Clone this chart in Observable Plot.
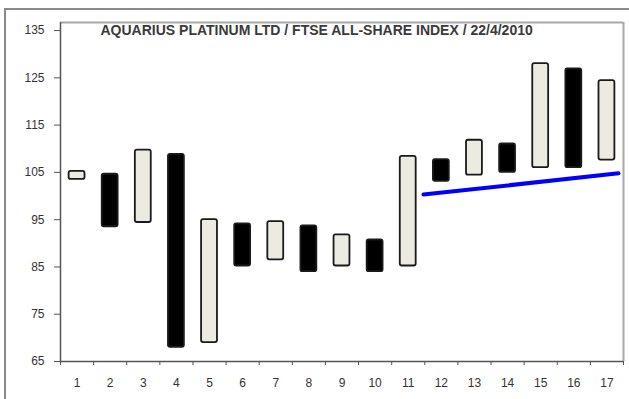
<!DOCTYPE html>
<html>
<head>
<meta charset="utf-8">
<script src="https://cdn.jsdelivr.net/npm/d3@7"></script>
<script src="https://cdn.jsdelivr.net/npm/@observablehq/plot@0.6"></script>
<style>
  html, body { margin: 0; padding: 0; background: #fff; }
  #wrap { position: relative; width: 629px; height: 399px; overflow: hidden; }
  #outer { position: absolute; left: 4px; top: 8px; width: 700px; height: 500px;
           border-top: 2px solid #8a8a8a; border-left: 2px solid #8a8a8a; pointer-events: none; }
  svg { font-family: "Liberation Sans", Arial, sans-serif; }
</style>
</head>
<body>
<div id="wrap"><div id="outer"></div></div>
<script>
const days   = [1, 2, 3, 4, 5, 6, 7, 8, 9, 10, 11, 12, 13, 14, 15, 16, 17];
const opens  = [103.5, 104.6, 94.4, 108.8, 69.0, 94.1, 86.5, 93.7, 85.2, 90.7, 85.2, 107.7, 104.4, 111.0, 106.0, 126.9, 107.6];
const closes = [105.2, 93.5, 109.7, 68.0, 95.0, 85.2, 94.6, 84.0, 91.8, 84.0, 108.4, 103.1, 111.8, 105.0, 128.0, 106.0, 124.4];
const yTicks = [65, 75, 85, 95, 105, 115, 125, 135];
const trendX = [11.46, 17.35];
const trendY = [100.3, 104.8];
const title = "AQUARIUS PLATINUM LTD / FTSE ALL-SHARE INDEX / 22/4/2010";

const candles = days.map((d, i) => ({day: d, open: opens[i], close: closes[i], up: closes[i] >= opens[i]}));
const trend = trendX.map((x, i) => ({x, y: trendY[i]}));
const yMin = 65, yMax = 136.7, xMin = 0.5, xMax = 17.5;
const halfW = 0.24;
const boundaries = d3.range(xMin, xMax + 0.01, 1);

const chart = Plot.plot({
  width: 629,
  height: 399,
  marginLeft: 60,
  marginRight: 6,
  marginTop: 22,
  marginBottom: 38,
  style: {fontFamily: "Liberation Sans, Arial, sans-serif", fontSize: "12px", color: "#333", background: "transparent"},
  x: {domain: [xMin, xMax], axis: null},
  y: {domain: [yMin, yMax], axis: null},
  marks: [
    // plot area border (top, right)
    Plot.ruleY([yMax], {stroke: "#a8a8a8", strokeWidth: 2}),
    Plot.ruleX([xMax], {stroke: "#a8a8a8", strokeWidth: 2}),
    // axes lines
    Plot.ruleX([xMin], {stroke: "#555", strokeWidth: 1.5}),
    Plot.ruleY([yMin], {stroke: "#555", strokeWidth: 1.5}),
    Plot.axisY(yTicks, {tickSize: 6, tickPadding: 10, stroke: "#555", fill: "#333", fontSize: 12, label: null}),
    Plot.axisX(days, {tickSize: 0, tickPadding: 17, fill: "#333", fontSize: 12, label: null}),
    Plot.axisX(boundaries, {tickSize: 4, text: null, stroke: "#555", label: null}),
    // candles
    Plot.rect(candles, {
      x1: d => d.day - halfW, x2: d => d.day + halfW,
      y1: "open", y2: "close",
      fill: d => d.up ? "#ecebe1" : "#000",
      stroke: "#1a1a1a", strokeWidth: 1.8, rx: 2
    }),
    // trend line
    Plot.line(trend, {x: "x", y: "y", stroke: "#0000ff", strokeWidth: 4}),
    // title
    Plot.text([title], {frameAnchor: "top-left", dx: 40, dy: 3, textAnchor: "start",
      fontWeight: "bold", fontSize: 14, fill: "#3a3a3a"})
  ]
});
document.getElementById("wrap").appendChild(chart);
chart.style.position = "absolute";
chart.style.left = "0";
chart.style.top = "0";
</script>
</body>
</html>
